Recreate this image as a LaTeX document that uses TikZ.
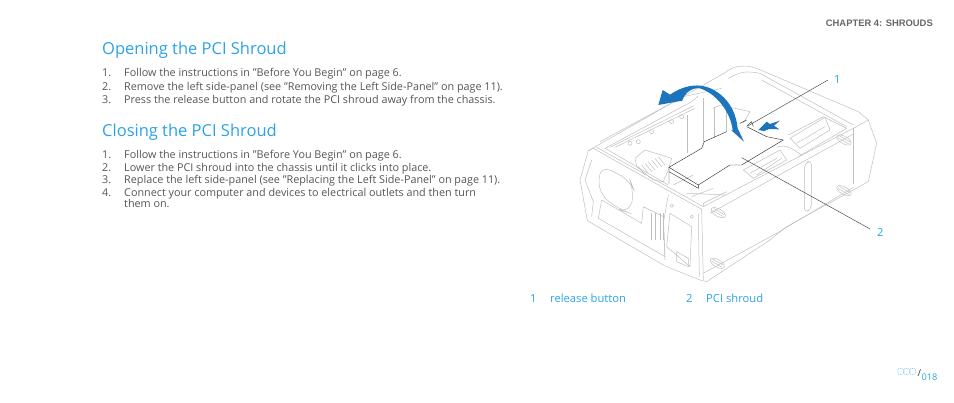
\documentclass[tikz,border=0pt]{standalone}
\usepackage{fontspec}
\setmainfont{Open Sans}
\newfontfamily\chapterfont{Liberation Sans}[BoldFont={Liberation Sans Bold}]
\definecolor{headblue}{HTML}{2AA3E6}
\definecolor{arrowblue}{HTML}{1C75BC}
\definecolor{bodygray}{HTML}{555555}
\tikzset{
	heading/.style={anchor=base west, inner sep=0pt, text=headblue, font=\fontsize{16.5}{20}\selectfont},
	bodytext/.style={anchor=base west, inner sep=0pt, text=bodygray, font=\fontsize{10.8}{12}\selectfont},
	callout/.style={anchor=base west, inner sep=0pt, text=headblue, font=\fontsize{11.2}{12}\selectfont},
	chassis/.style={draw=black!25, line width=0.5pt, line join=round},
	shroud/.style={draw=black!85, line width=0.4pt},
	leader/.style={draw=black!80, line width=0.4pt},
}
\begin{document}
\begin{tikzpicture}[x=1pt,y=-1pt]
	\useasboundingbox (0,0) rectangle (954,403);
	\node[anchor=base east, inner sep=0pt, text=black!60, font=\chapterfont\fontsize{9.4}{10}\bfseries\selectfont] (chapter) at (933,27) {CHAPTER 4: SHROUDS};

	\node[heading] (openhead) at (102,54.5) {Opening the PCI Shroud};
	\node[heading] (closehead) at (102,136.5) {Closing the PCI Shroud};
	\foreach \i/\j/\t in {1/77/{Follow the instructions in "Before You Begin" on page 6.},
		2/91/{Remove the left side-panel (see "Removing the Left Side-Panel" on page 11).},
		3/104/{Press the release button and rotate the PCI shroud away from the chassis.},
		1/159/{Follow the instructions in "Before You Begin" on page 6.},
		2/172/{Lower the PCI shroud into the chassis until it clicks into place.},
		3/184/{Replace the left side-panel (see "Replacing the Left Side-Panel" on page 11).},
		4/197/{Connect your computer and devices to electrical outlets and then turn}}{
		\node[bodytext] (num\j) at (102,\j) {\i.};
		\node[bodytext] (step\j) at (124,\j) {\t};
	}
	\node[bodytext] (steplast) at (124,208) {them on.};

	% chassis, in the scale of a 3x crop
	\begin{scope}[shift={(570,60)},x=0.3333pt,y=-0.3333pt]
		\draw[chassis] (55,272) -- (30,360) -- (52,482) -- (285,618) -- (390,660) -- (410,665)
			-- (600,540) -- (650,500) -- (895,365) -- (920,250) -- (895,180) -- (865,155) -- (560,25)
			.. controls (520,12) and (490,18) .. (465,38) -- cycle;
		\draw[chassis] (55,272) -- (70,265) -- (395,448) -- (400,660);
		\draw[chassis] (65,300) -- (45,360) -- (70,425) -- (65,470);
		\draw[chassis] (80,262) -- (400,440) -- (850,205) -- (895,180);
		\draw[chassis] (850,205) -- (850,372);
		\draw[chassis] (385,460) -- (388,650);
		\draw[chassis] (400,640) -- (620,520) -- (850,382);
		\draw[chassis] (420,460) -- (850,222);
		\draw[chassis] (475,55) .. controls (510,35) and (530,32) .. (570,40) -- (850,195);
		\draw[chassis] (575,60) -- (830,200);
		\draw[chassis] (90,245) -- (340,110) -- (455,85);
		\draw[chassis] (105,265) -- (365,125) -- (385,108);
		\draw[chassis] (120,262) -- (370,138);
		\draw[chassis] (135,262) -- (375,145);
		\draw[chassis] (105,265) -- (295,375);
		\draw[chassis] (353,165) -- (353,280);
		\draw[chassis] (400,115) -- (400,245);
		\draw[chassis] (432,140) -- (432,235) (470,135) -- (470,215);
		\draw[chassis] (430,145) -- (450,135) -- (540,155) -- (520,190);
		\draw[chassis] (195,295) -- (225,270) -- (305,295) -- (295,330) -- (280,365) -- (250,360) -- (200,320) -- cycle;
		\foreach \i in {0,...,6}{
			\draw[chassis] (205+\i*10,320-\i*5) -- (225+\i*10,345-\i*5);
		}
		\foreach \i\j in {180/250,205/245,245/215,305/185,335/170}{
			\draw[chassis] (\i,\j) circle (6);
		}
		% drive bays
		\draw[chassis] (655,225) -- (760,170) -- (830,205) -- (685,290);
		\draw[chassis] (660,235) -- (765,172) -- (780,210) -- (690,265) -- cycle;
		\draw[chassis] (680,250) -- (765,200);
		\draw[chassis] (620,262) .. controls (650,250) and (670,270) .. (695,285);
		\draw[chassis] (520,330) -- (630,270) -- (650,300) -- (550,355) -- cycle;
		\draw[chassis] (560,345) -- (635,295) (540,340) -- (620,295);
		\draw[chassis] (310,375) -- (370,345) (350,400) -- (470,405) (365,410) -- (430,385);
		\draw[chassis] (400,440) -- (400,430) -- (470,395);
		% front of the case
		\draw[chassis, rounded corners=12pt] (90,315) -- (180,360) -- (192,390) -- (180,460) -- (150,450) -- (85,400) -- cycle;
		\draw[chassis] (95,420) -- (215,490) -- (220,440) -- (280,470) -- (285,590) -- (85,475) -- (95,420);
		\foreach \i in {243,255,270,280}{
			\draw[chassis] (\i,460) -- (\i,540);
		}
		\draw[chassis] (295,405) -- (280,490) -- (285,600);
		\draw[chassis] (300,460) -- (365,500) -- (360,620) -- (290,560) -- cycle;
		\draw[chassis] (320,575) -- (355,595) -- (355,620) -- (320,605) -- cycle;
		\draw[chassis] (305,437) circle (5) (365,470) circle (5);
		% side slot
		\draw[chassis, rounded corners=5pt] (703,310) -- (725,300) -- (725,445) -- (703,460) -- cycle;
		\foreach \i\j in {445/458,442/610,822/240,822/392}{
			\draw[chassis, rotate around={-30:(\i,\j)}] (\i,\j) ellipse (24 and 11);
			\draw[chassis, rotate around={-30:(\i,\j)}] (\i-18,\j-4) -- (\i+18,\j-4) (\i-18,\j+3) -- (\i+18,\j+3);
		}

		% shroud
		\draw[shroud] (470,215) -- (403,245) -- (395,265) -- (297,322) -- (385,375) -- (480,315) -- (515,315) -- (640,240);
		\draw[shroud] (297,322) -- (297,372) (297,335) -- (385,385) -- (385,375);
		\draw[shroud] (530,180) -- (510,190);
		\draw[shroud] (530,200) -- (590,230) -- (640,240);
		\draw[shroud] (532,197) -- (545,185) -- (550,200);

		% arrows
		\fill[arrowblue] (265,135) -- (278,90) -- (300,104) .. controls (350,70) and (400,68) .. (440,95)
			.. controls (485,125) and (500,170) .. (503,205) -- (522,245) -- (483,210) -- (488,212)
			.. controls (485,170) and (450,105) .. (390,85) .. controls (370,82) and (345,95) .. (337,122) -- cycle;
		\fill[arrowblue] (565,210) -- (590,185) -- (600,192) -- (630,182) -- (612,197) -- (628,208) -- (598,207) -- (582,213) -- cycle;
		\coordinate (buttonpt) at (535,197);
		\coordinate (shroudpt) at (515,293);
	\end{scope}

	\node[callout] (labelone) at (834,84) {1};
	\node[callout] (labeltwo) at (877,237) {2};
	\draw[leader] (labelone.west) ++(-6,0) coordinate (onefree) -- (buttonpt);
	\draw[leader] (labeltwo.west) ++(-7,-4) coordinate (twofree) -- (shroudpt);

	\foreach \i\j\t in {530/550/release button,686/706/PCI shroud}{
		\node[callout] (key\i) at (\j,303) {\t};
	}
	\node[callout] (keynumone) at (530,303) {1};
	\node[callout] (keynumtwo) at (686,303) {2};

	% page number
	\foreach \i in {898,904,910}{
		\draw[headblue!70, line width=0.6pt, densely dotted, rounded corners=1pt] (\i,368.5) rectangle ++(5.5,6);
	}
	\node[anchor=base west, inner sep=0pt, text=black!80, font=\fontsize{9.6}{11}\selectfont] (slash) at (917.5,377) {/};
	\node[callout, font=\fontsize{9.2}{10}\selectfont] (pagenum) at (921.5,381) {018};
\end{tikzpicture}
\end{document}
